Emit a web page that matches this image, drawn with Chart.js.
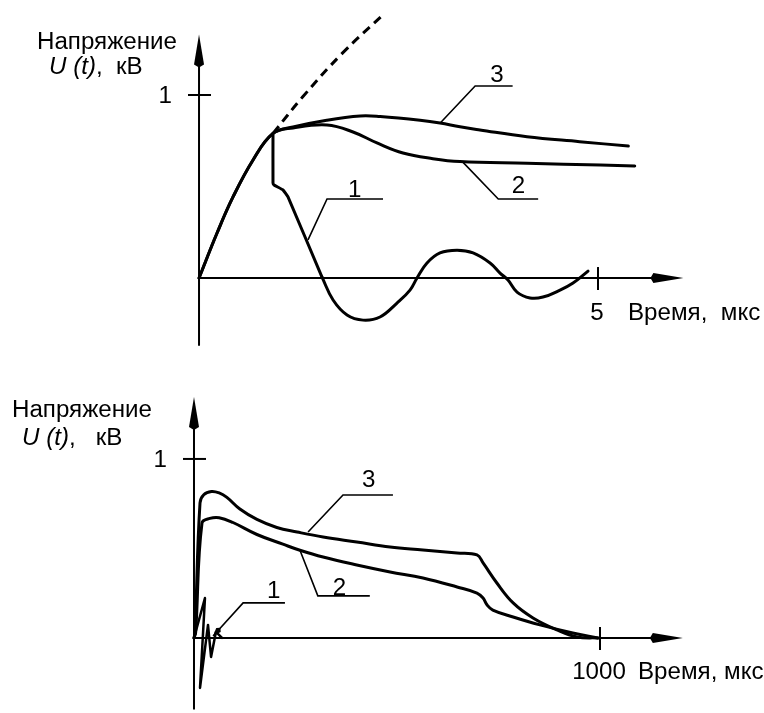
<!DOCTYPE html>
<html>
<head>
<meta charset="utf-8">
<script src="https://cdn.jsdelivr.net/npm/chart.js@4.4.0/dist/chart.umd.min.js"></script>
<style>
  html, body { margin: 0; padding: 0; background: #fff; }
  #wrap { position: relative; width: 764px; height: 713px; }
  canvas { position: absolute; left: 0; }
  #topChart { top: 0; }
  #bottomChart { top: 356px; }
</style>
</head>
<body>
<div id="wrap">
  <canvas id="topChart" width="764" height="356"></canvas>
  <canvas id="bottomChart" width="764" height="357"></canvas>
</div>
<script>
// upper graph: time in mks (0..5), voltage in kV
const topRise = [[0, 0], [0.226, 0.246], [0.426, 0.443], [0.677, 0.645], [0.927, 0.79]];
const topCurve3 = [[1.178, 0.825], [1.60, 0.862], [2.02, 0.885], [2.27, 0.882], [2.77, 0.862],
  [3.02, 0.847], [3.27, 0.826], [3.52, 0.809], [4.11, 0.772], [4.77, 0.745], [5.38, 0.721]];
const topCurve2 = [[1.178, 0.82], [1.604, 0.836], [1.93, 0.798], [2.23, 0.738], [2.556, 0.683],
  [2.93, 0.652], [3.27, 0.636], [4.11, 0.627], [5.03, 0.617], [5.46, 0.612]];
// curve 1: sharp drop first, then damped swing
const topCurve1Drop = [[0.927, 0.79], [0.927, 0.519], [0.94, 0.508], [1.053, 0.481],
  [1.115, 0.443], [1.541, 0.005]];
const topCurve1Swing = [[1.541, 0.005], [1.68, -0.12], [1.855, -0.202], [2.055, -0.23],
  [2.268, -0.213], [2.481, -0.137], [2.644, -0.066], [2.732, 0], [2.857, 0.082], [3.02, 0.137],
  [3.233, 0.152], [3.434, 0.137], [3.647, 0.082], [3.772, 0.027], [3.872, -0.011],
  [3.985, -0.077], [4.148, -0.109], [4.31, -0.104], [4.524, -0.066], [4.687, -0.027],
  [4.875, 0.038]];
const topDashed = [[0.927, 0.79], [1.30, 0.99], [1.80, 1.23], [2.31, 1.44]];

// lower graph: time in mks (0..1000), voltage in kV
const bottomCurve3 = [[0, 0], [2.5, 0.028], [14.8, 0.754], [24, 0.80], [43, 0.818], [62, 0.81],
  [81, 0.785], [113, 0.72], [155, 0.662], [204, 0.617], [254, 0.592], [318, 0.564],
  [401, 0.536], [483, 0.508], [564, 0.492], [648, 0.475], [697, 0.464], [712, 0.419],
  [746, 0.307], [786, 0.196], [835, 0.112], [894, 0.045], [943, 0.006], [995, 0]];
const bottomCurve2 = [[0, 0], [4, 0.03], [19.7, 0.642], [39, 0.668], [62, 0.672], [96, 0.645],
  [155, 0.578], [219, 0.524], [261, 0.49], [318, 0.452], [401, 0.408], [483, 0.369],
  [564, 0.335], [648, 0.285], [697, 0.251], [712, 0.223], [722, 0.184], [736, 0.156],
  [786, 0.117], [852, 0.073], [933, 0.028], [995, 0]];
const bottomCurve1 = [[0, 0], [27, 0.223], [14.8, -0.279], [34.5, 0.073], [42, -0.106],
  [54, 0.034], [69, 0]];

const FONT = '"Liberation Sans", Arial, sans-serif';
const FONT_PX = 23;
let SX = 0;

const pts = arr => arr.map(([x, y]) => ({ x, y }));

function curve(data, extra) {
  return Object.assign({
    data: pts(data),
    borderColor: '#000',
    borderWidth: 3,
    pointRadius: 0,
    fill: false,
    tension: 0.4,
    borderCapStyle: 'round',
    borderJoinStyle: 'round'
  }, extra || {});
}

function text(ctx, s, x, y, italic, align) {
  ctx.save();
  ctx.font = (italic ? 'italic ' : '') + FONT_PX + 'px ' + FONT;
  ctx.fillStyle = '#000';
  ctx.textBaseline = 'alphabetic';
  const w = ctx.measureText(s).width * SX;
  if (align === 'right') x -= w;
  if (align === 'center') x -= w / 2;
  ctx.translate(x, y);
  ctx.scale(SX, 1);
  ctx.fillText(s, 0, 0);
  ctx.restore();
  return x + w;
}

function seg(ctx, x1, y1, x2, y2) {
  ctx.beginPath();
  ctx.moveTo(x1, y1);
  ctx.lineTo(x2, y2);
  ctx.stroke();
}

function arrowHead(ctx, x, y, dx, dy, len, half) {
  // dx, dy: unit direction of the arrow
  ctx.beginPath();
  ctx.moveTo(x, y);
  ctx.lineTo(x - dx * len - dy * half, y - dy * len + dx * half);
  ctx.lineTo(x - dx * (len + 3), y - dy * (len + 3));
  ctx.lineTo(x - dx * len + dy * half, y - dy * len - dx * half);
  ctx.closePath();
  ctx.fill();
}

function axesPlugin(cfg) {
  return {
    id: 'axes',
    beforeDatasetsDraw(chart) {
      const { ctx, scales: { x, y } } = chart;
      const x0 = x.getPixelForValue(0), y0 = y.getPixelForValue(0);
      ctx.save();
      ctx.strokeStyle = '#000';
      ctx.fillStyle = '#000';
      ctx.lineWidth = 2;
      const yTop = y.getPixelForValue(cfg.yAxis[1]);
      seg(ctx, x0, y.getPixelForValue(cfg.yAxis[0]), x0, yTop + 20);
      arrowHead(ctx, x0, yTop, 0, -1, 30, 5);
      const xTip = x.getPixelForValue(cfg.xAxis);
      seg(ctx, x0, y0, xTip - 20, y0);
      arrowHead(ctx, xTip, y0, 1, 0, 30, 5);
      const ty = y.getPixelForValue(cfg.yTick);
      seg(ctx, x0 - 11, ty, x0 + 12, ty);
      const tx = x.getPixelForValue(cfg.xTick);
      seg(ctx, tx, y0 - 11, tx, y0 + 12);
      ctx.restore();
    },
    afterDatasetsDraw(chart) {
      const { ctx, scales: { x, y } } = chart;
      if (!SX) {
        ctx.save();
        ctx.font = FONT_PX + 'px ' + FONT;
        SX = 140 / ctx.measureText('Напряжение').width;
        ctx.restore();
      }
      ctx.save();
      ctx.strokeStyle = '#000';
      ctx.fillStyle = '#000';
      ctx.lineWidth = 1.6;
      cfg.leaders.forEach(l => {
        const p = l.path.map(([a, b]) => [x.getPixelForValue(a), y.getPixelForValue(b)]);
        ctx.beginPath();
        ctx.moveTo(p[0][0], p[0][1]);
        p.slice(1).forEach(q => ctx.lineTo(q[0], q[1]));
        ctx.stroke();
        if (l.arrow) {
          const d = Math.hypot(p[0][0] - p[1][0], p[0][1] - p[1][1]);
          arrowHead(ctx, p[0][0], p[0][1], (p[0][0] - p[1][0]) / d, (p[0][1] - p[1][1]) / d, 8, 3);
        }
        text(ctx, l.label, x.getPixelForValue(l.at[0]), y.getPixelForValue(l.at[1]));
      });
      ctx.restore();

      const x0 = x.getPixelForValue(0), y0 = y.getPixelForValue(0);
      const ty = y.getPixelForValue(cfg.yTick), tx = x.getPixelForValue(cfg.xTick);
      text(ctx, 'Напряжение', cfg.title[0], cfg.title[1]);
      let ux = text(ctx, 'U (t)', cfg.unit[0], cfg.unit[1], true);
      text(ctx, cfg.unitRest, ux, cfg.unit[1]);
      text(ctx, String(cfg.yTick), x0 - 27, ty + 8, false, 'right');
      text(ctx, String(cfg.xTick), tx - 1, y0 + cfg.xLabelDy, false, 'center');
      text(ctx, cfg.xTitle, tx + cfg.xTitleDx, y0 + cfg.xLabelDy);
    }
  };
}

function makeChart(id, cfg) {
  return new Chart(document.getElementById(id), {
    type: 'line',
    data: { datasets: cfg.datasets },
    options: {
      responsive: false,
      animation: false,
      events: [],
      layout: { padding: 0 },
      plugins: { legend: { display: false }, tooltip: { enabled: false } },
      scales: {
        x: { type: 'linear', display: false, min: cfg.x[0], max: cfg.x[1] },
        y: { type: 'linear', display: false, min: cfg.y[0], max: cfg.y[1] }
      }
    },
    plugins: [axesPlugin(cfg)]
  });
}

makeChart('topChart', {
  x: [-2.494, 7.08],
  y: [-0.426, 1.519],
  xAxis: 6.07, yAxis: [-0.37, 1.33],
  xTick: 5, yTick: 1,
  title: [37, 49], unit: [49, 74], unitRest: ',  кВ',
  xTitle: 'Время,  мкс', xTitleDx: 30, xLabelDy: 42,
  leaders: [
    { label: '3', path: [[3.02, 0.846], [3.46, 1.049], [3.93, 1.049]], at: [3.65, 1.071] },
    { label: '2', path: [[3.30, 0.636], [3.75, 0.432], [4.25, 0.432]], at: [3.92, 0.464] },
    { label: '1', path: [[1.366, 0.208], [1.604, 0.432], [2.306, 0.432]], at: [1.867, 0.443] }
  ],
  datasets: [
    curve(topRise.concat(topCurve3)),
    curve(topRise.concat(topCurve2)),
    curve(topCurve1Drop, { tension: 0.1 }),
    curve(topCurve1Swing),
    curve(topDashed, { borderDash: [9, 6], borderCapStyle: 'butt' })
  ]
});

makeChart('bottomChart', {
  x: [-477.8, 1403.9],
  y: [-0.419, 1.575],
  xAxis: 1204, yAxis: [-0.40, 1.346],
  xTick: 1000, yTick: 1,
  title: [12, 61], unit: [22, 89], unitRest: ',   кВ',
  xTitle: 'Время, мкс', xTitleDx: 38, xLabelDy: 41,
  leaders: [
    { label: '3', path: [[281, 0.592], [367, 0.799], [490, 0.799]], at: [414, 0.844] },
    { label: '2', path: [[261, 0.49], [305, 0.235], [433, 0.235]], at: [342, 0.240] },
    { label: '1', path: [[47, 0.011], [121, 0.196], [224, 0.196]], at: [180, 0.223], arrow: true }
  ],
  datasets: [
    curve(bottomCurve3),
    curve(bottomCurve2),
    curve(bottomCurve1, { tension: 0, borderWidth: 2.5 })
  ]
});
</script>
</body>
</html>
